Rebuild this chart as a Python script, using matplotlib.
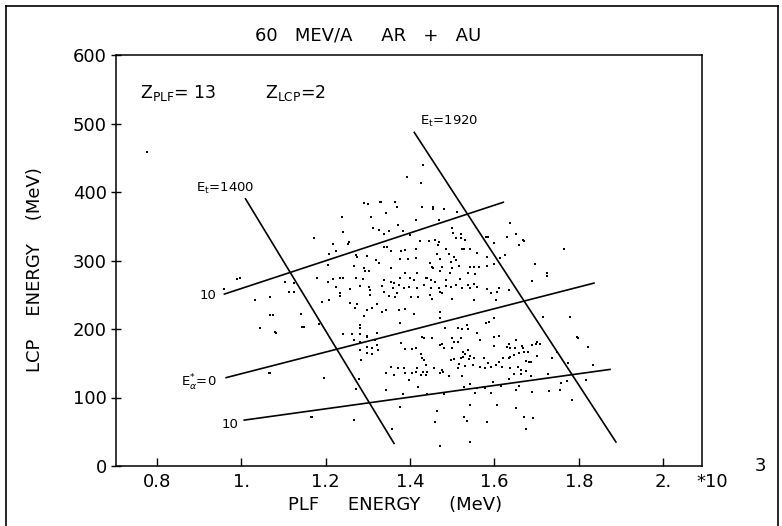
import matplotlib
matplotlib.use("Agg")
import matplotlib.pyplot as plt
from matplotlib.lines import Line2D

# ---- data (PLF energy in units of 10^3 MeV, LCP energy in MeV) ----
plf_energy = [
    1.290, 1.300, 1.328, 1.239, 1.308, 1.312, 1.327, 1.241, 1.173, 1.218, 1.255, 1.253, 1.225, 1.209,
    1.271, 1.274, 1.298, 1.320, 1.205, 1.268, 1.290, 1.294, 1.302, 1.326, 1.180, 1.218, 1.235, 1.240,
    1.273, 1.289, 1.205, 1.225, 1.258, 1.282, 1.306, 1.302, 1.233, 1.233, 1.126, 1.114, 1.067, 1.191,
    1.207, 1.258, 1.274, 1.322, 1.306,
    1.392, 1.425, 1.330, 1.365, 1.369, 1.429, 1.454, 1.455, 1.342, 1.413, 1.468, 1.480, 1.512, 1.371,
    1.384, 1.350, 1.338, 1.399, 1.500, 1.502, 1.520, 1.520, 1.530, 1.508, 1.579, 1.584, 1.599, 1.629,
    1.458, 1.468, 1.467, 1.423, 1.444, 1.339, 1.346, 1.354, 1.379, 1.387, 1.413, 1.464, 1.486, 1.492,
    1.522, 1.528, 1.543, 1.559, 1.583, 1.613, 1.626, 1.377, 1.395, 1.413, 1.471, 1.496, 1.505, 1.509,
    1.448, 1.500, 1.475, 1.516, 1.542, 1.551, 1.563, 1.583, 1.599, 1.354, 1.387, 1.417, 1.452, 1.455,
    1.471, 1.494, 1.537, 1.553, 1.437, 1.441, 1.401, 1.377, 1.338, 1.354, 1.363, 1.373, 1.410, 1.450,
    1.460, 1.486, 1.518, 1.508, 1.537, 1.551, 1.334, 1.339, 1.360, 1.368, 1.385, 1.397, 1.417, 1.433,
    1.450, 1.468, 1.486, 1.496, 1.471, 1.476, 1.524, 1.543, 1.559, 1.583, 1.611, 1.350, 1.365, 1.403,
    1.418, 1.447, 1.452, 1.500, 1.551, 1.591, 1.605, 1.634, 1.603,
    1.638, 1.650, 1.668, 1.671, 1.658, 1.765, 1.695, 1.725, 1.725, 1.690,
    1.270, 1.298, 1.310, 1.290, 1.282, 1.282, 1.075, 1.142, 1.144, 1.148, 1.045, 1.083, 1.241, 1.263,
    1.282, 1.297, 1.298, 1.322, 1.316, 1.268, 1.282, 1.297, 1.310, 1.322, 1.324, 1.282, 1.298, 1.310,
    1.284, 1.069, 1.195, 1.278, 1.273, 1.267, 1.168,
    1.344, 1.373, 1.389, 1.409, 1.471, 1.472, 1.334, 1.375, 1.434, 1.452, 1.429, 1.484, 1.513, 1.524,
    1.534, 1.537, 1.579, 1.599, 1.587, 1.559, 1.565, 1.599, 1.611, 1.599, 1.629, 1.634, 1.379, 1.389,
    1.405, 1.415, 1.425, 1.429, 1.433, 1.437, 1.471, 1.476, 1.480, 1.500, 1.504, 1.513, 1.526, 1.531,
    1.537, 1.526, 1.543, 1.520, 1.539, 1.497, 1.504, 1.551, 1.575, 1.584, 1.621, 1.634, 1.611, 1.354,
    1.371, 1.385, 1.417, 1.413, 1.431, 1.441, 1.456, 1.476, 1.478, 1.516, 1.513, 1.531, 1.550, 1.565,
    1.577, 1.591, 1.603, 1.618, 1.342, 1.361, 1.389, 1.405, 1.425, 1.437, 1.472, 1.492, 1.524, 1.397,
    1.418, 1.342, 1.384, 1.441, 1.480, 1.527, 1.542, 1.559, 1.577, 1.597, 1.615, 1.634, 1.555, 1.591,
    1.376, 1.464, 1.527, 1.534, 1.458, 1.583, 1.357, 1.541, 1.471, 1.607, 1.543, 1.500, 1.520,
    1.716, 1.779, 1.796, 1.798, 1.822, 1.650, 1.638, 1.648, 1.666, 1.668, 1.690, 1.698, 1.701, 1.709,
    1.658, 1.670, 1.679, 1.638, 1.646, 1.700, 1.682, 1.687, 1.676, 1.737, 1.749, 1.638, 1.656, 1.664,
    1.674, 1.646, 1.662, 1.687, 1.727, 1.774, 1.834, 1.816, 1.757, 1.773, 1.729, 1.755, 1.690, 1.650,
    1.658, 1.785, 1.652, 1.670, 1.692, 1.676,
    0.996, 0.959, 0.990, 1.033, 1.068, 1.045, 1.080, 1.146, 1.185, 1.066, 1.166, 1.104, 1.125, 0.776,
    1.430,
]
lcp_energy = [
    383.5, 382, 386, 364, 363, 347, 345, 341, 333, 324, 327, 324, 314, 309,
    308, 305, 307, 301, 293, 292, 289, 285, 284, 296, 274, 273, 275, 274,
    274, 273, 268, 262, 258, 263, 257, 262, 252, 248, 254, 254, 247, 240,
    242, 238, 237, 237, 250,
    422.5, 412.7, 386, 386, 378.7, 378.7, 378.7, 374.8, 370, 359.2, 359.2, 374.8, 371.4, 351.9,
    343.1, 343.1, 338.8, 337.3, 347, 340.7, 338.8, 332.4, 330, 332.4, 333.9, 333.9, 326.1, 333.9,
    330, 327.6, 322.7, 328.5, 328.5, 320.3, 319.3, 314.4, 314.4, 315.4, 316.4, 309.5, 316.4, 309.1,
    316.4, 316.4, 316.4, 310.5, 305.7, 303.2, 308.1, 301.8, 301.8, 304.2, 301.8, 298.4, 304.7, 300.8,
    295.9, 288.6, 291.1, 292, 290.1, 291.1, 290.1, 292, 295, 288.6, 281.3, 281.3, 290.1, 288.6,
    284.7, 281.3, 281.3, 280.4, 274, 274, 274, 274, 271.6, 269.2, 267.7, 264.3, 271.6, 271.6,
    269.2, 271.6, 272.6, 264.3, 264.3, 265.7, 262.8, 254.6, 259.4, 252.1, 259.4, 261.9, 259.4, 264.3,
    259.4, 259.4, 262.8, 260.9, 254.6, 252.1, 260.4, 259.4, 261.9, 258, 259.4, 248.2, 247.3, 247.3,
    247.3, 249.7, 243.4, 243.4, 242.4, 252.1, 254.6, 257, 242.4,
    354.3, 338.8, 330, 329, 322.7, 316.4, 295, 282.3, 277.4, 270.6,
    230.2, 227.8, 230.2, 219, 205.9, 202, 220.5, 222, 203.5, 203.5, 201, 194.7, 192.3, 192.8,
    192.3, 190.3, 188.9, 193.7, 184, 184, 180.6, 174.3, 172.8, 176.7, 169.4, 169.4, 164.5, 163.1,
    154.8, 136.3, 129, 127, 112.5, 67.2, 72,
    227.8, 227.8, 229.3, 221.5, 224.4, 216.6, 225.4, 208.3, 187.4, 186.4, 188.9, 201, 202, 200.1,
    205.9, 200.1, 208.3, 215.6, 209.8, 193.7, 184, 187.9, 190.3, 175.7, 173.3, 177.7, 179.1, 170.9,
    170.9, 171.8, 163.1, 157.2, 154.8, 147.5, 176.7, 177.7, 172.8, 171.8, 181.6, 181.6, 167, 163.1,
    169.4, 159.7, 161.1, 157.2, 156.3, 154.8, 156.3, 157.2, 157.2, 149.9, 157.2, 157.2, 152.4, 145.1,
    143.6, 142.6, 143.6, 137.8, 137.8, 137.8, 142.6, 140.2, 137.8, 148.5, 142.6, 146.5, 147.5, 145.1,
    143.6, 145.1, 147.5, 145.1, 135.3, 132.9, 135.3, 135.3, 132.9, 132.9, 135.3, 131.9, 131.9, 125.6,
    115.9, 111, 104.7, 104.7, 104.7, 115.9, 119.3, 114.4, 113.4, 123.2, 117.3, 127, 106.1, 106.1,
    86.7, 80.3, 72, 66.2, 63.8, 64.8, 54, 35.6, 29.2, 89.1, 89.1, 186.4, 186.4,
    218.1, 218.1, 188.9, 186.4, 174.3, 184, 172.8, 171.8, 175.7, 172.8, 176.7, 177.7, 180.6, 177.7,
    164.5, 166, 167, 159.7, 162.1, 161.1, 152.4, 152.4, 153.3, 157.2, 166, 143.6, 145.1, 140.2,
    138.7, 133.9, 133.9, 131.4, 133.9, 149.9, 147.5, 125.6, 120.7, 124.1, 109.5, 111, 108.6, 111,
    117.3, 96.4, 85.2, 72, 70.6, 54,
    274, 259, 273, 242, 220, 202, 195, 203, 207, 136, 72, 269, 267, 459,
    440,
]

# kinematic lines (end points)
et1400_x = [1.010, 1.362]
et1400_y = [390, 33]
et1920_x = [1.410, 1.888]
et1920_y = [487, 35]
ea_top_x = [0.960, 1.621]
ea_top_y = [251, 385]
ea_mid_x = [0.964, 1.836]
ea_mid_y = [129, 267]
ea_bot_x = [1.007, 1.874]
ea_bot_y = [67, 141]

x_ticks = [0.8, 1.0, 1.2, 1.4, 1.6, 1.8, 2.0]
x_tick_labels = ["0.8", "1.", "1.2", "1.4", "1.6", "1.8", "2."]
y_ticks = [0, 100, 200, 300, 400, 500, 600]

plt.rcParams['font.family'] = ['DejaVu Sans']

fig = plt.figure(figsize=(7.82, 5.26), dpi=100)
ax = fig.add_axes([116/782, 1 - 466/526, (702 - 116)/782, (466 - 55)/526])

ax.scatter(plf_energy, lcp_energy, s=2.2, c='black', marker='s', linewidths=0)

for xs, ys in [(et1400_x, et1400_y), (et1920_x, et1920_y), (ea_top_x, ea_top_y),
               (ea_mid_x, ea_mid_y), (ea_bot_x, ea_bot_y)]:
    ax.plot(xs, ys, color='black', lw=1.2)

ax.set_xlim(0.703, 2.092)
ax.set_ylim(0, 600)
ax.set_xticks(x_ticks)
ax.set_xticklabels(x_tick_labels)
ax.set_yticks(y_ticks)
ax.tick_params(axis='x', direction='in', length=6, width=1, labelsize=13, pad=5)
ax.tick_params(axis='y', direction='inout', length=7, width=1, labelsize=13, pad=3)
for sp in ax.spines.values():
    sp.set_linewidth(1.1)

fig.text(395/782, 1 - 505/526, "PLF     ENERGY     (MeV)", fontsize=13, ha='center', va='center')
fig.text(35/782, 1 - 270/526, "LCP    ENERGY    (MeV)", fontsize=13, ha='center', va='center',
         rotation=90)

# annotations
ax.text(0.76, 545, r"Z$_{\rm PLF}$= 13", fontsize=12.5, va='center', ha='left')
ax.text(1.056, 545, r"Z$_{\rm LCP}$=2", fontsize=12.5, va='center', ha='left')
ax.text(0.893, 405, r"E$_{\rm t}$=1400", fontsize=9.5, va='center', ha='left')
ax.text(1.424, 503, r"E$_{\rm t}$=1920", fontsize=9.5, va='center', ha='left')
ax.text(0.921, 249, "10", fontsize=9.5, va='center', ha='center')
ax.text(0.942, 121, r"E$^{*}_{\alpha}$=0", fontsize=9.5, va='center', ha='right')
ax.text(0.973, 60, "10", fontsize=9.5, va='center', ha='center')

fig.text(368/782, 1 - 35/526, "60   MEV/A     AR   +   AU", fontsize=13, ha='center', va='center')
fig.text(712/782, 1 - 482/526, "*10", fontsize=13, ha='center', va='center')
fig.text(760/782, 1 - 466/526, "3", fontsize=13, ha='center', va='center')

# outer frame of the original figure
for xs, ys in [([6/782, 6/782], [0, 1 - 6/526]), ([6/782, 778/782], [1 - 6/526, 1 - 6/526]),
               ([778/782, 778/782], [1 - 6/526, 0])]:
    fig.add_artist(Line2D(xs, ys, transform=fig.transFigure, color='black', lw=1.2))

fig.savefig("out.png", dpi=100)
